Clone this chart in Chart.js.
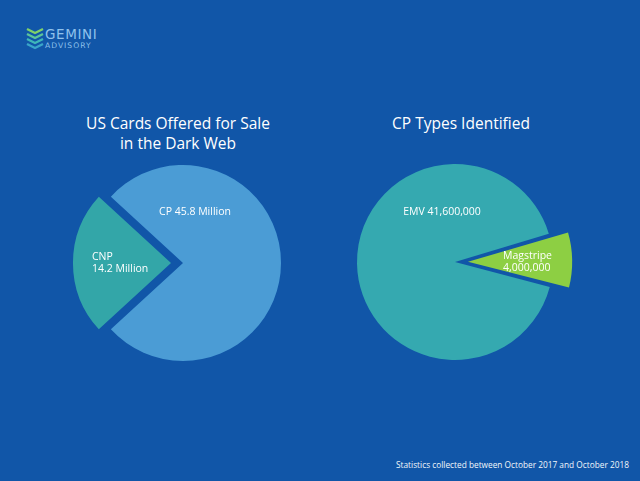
<!DOCTYPE html>
<html>
<head>
<meta charset="utf-8">
<script src="https://cdn.jsdelivr.net/npm/chart.js@4.4.0/dist/chart.umd.min.js"></script>
<style>
  html, body { margin: 0; padding: 0; }
  body { width: 640px; height: 481px; background: #1156a8; position: relative; overflow: hidden; font-family: "Open Sans", sans-serif; color: #fff; }
  .title { position: absolute; text-align: center; font-size: 15.5px; line-height: 20px; width: 260px; }
  .chartBox { position: absolute; width: 240px; height: 240px; }
  .footer { position: absolute; left: 396px; top: 459px; font-size: 8.3px; color: #f2f6fb; white-space: nowrap; }
  .logo { position: absolute; left: 26px; top: 27px; }
  .logo .name { position: absolute; left: 19px; top: 0px; font-size: 13.5px; letter-spacing: 0.6px; color: #8fc2ec; line-height: 14px; font-family: "DejaVu Sans", sans-serif; }
  .logo .sub { position: absolute; left: 19px; top: 14px; font-size: 7.6px; letter-spacing: 1px; color: #8fc2ec; line-height: 9px; font-family: "DejaVu Sans", sans-serif; }
</style>
</head>
<body>
<div class="logo">
  <svg width="18" height="24" viewBox="0 0 18 24">
    <polyline points="1,2 9,6 17,2" fill="none" stroke="#7fd16a" stroke-width="2.4"/>
    <polyline points="1,7 9,11 17,7" fill="none" stroke="#5cc59a" stroke-width="2.4"/>
    <polyline points="1,12 9,16 17,12" fill="none" stroke="#3fb7b8" stroke-width="2.4"/>
    <polyline points="1,17 9,21 17,17" fill="none" stroke="#3aa6c9" stroke-width="2.4"/>
  </svg>
  <div class="name">GEMINI</div>
  <div class="sub">ADVISORY</div>
</div>

<div class="title" style="left:48px; top:113px;">US Cards Offered for Sale<br>in the Dark Web</div>
<div class="title" style="left:331px; top:113px;">CP Types Identified</div>

<div class="chartBox" style="left:63px; top:143px;"><canvas id="cardsChart" width="240" height="240"></canvas></div>
<div class="chartBox" style="left:335px; top:142px;"><canvas id="cpChart" width="240" height="240"></canvas></div>

<div class="footer">Statistics collected between October 2017 and October 2018</div>

<script>
// data
const cardLabels = ["CNP", "CP"];
const cardValues = [14.2, 45.8]; // millions
const cardText = [["CNP", "14.2 Million"], ["CP 45.8 Million"]];
const cardColors = ["#33a6a8", "#4b9cd5"];

const cpLabels = ["Magstripe", "EMV"];
const cpValues = [4000000, 41600000];
const cpText = [["Magstripe", "4,000,000"], ["EMV 41,600,000"]];
const cpColors = ["#8dcf43", "#35a9b0"];

// where each slice's text sits, relative to the pie centre
const cardTextPos = [{ x: -91, y: 0, align: "left" }, { x: 12, y: -51, align: "center" }];
const cpTextPos = [{ x: 48, y: 0, align: "left" }, { x: -13, y: -50, align: "center" }];

const sliceText = {
  id: "sliceText",
  afterDatasetsDraw(chart, args, opts) {
    const ctx = chart.ctx;
    const cx = (chart.chartArea.left + chart.chartArea.right) / 2;
    const cy = (chart.chartArea.top + chart.chartArea.bottom) / 2;
    ctx.save();
    ctx.fillStyle = "#ffffff";
    ctx.font = "10.5px 'Open Sans', sans-serif";
    ctx.textBaseline = "middle";
    opts.lines.forEach((lines, i) => {
      const p = opts.pos[i];
      ctx.textAlign = p.align;
      const top = cy + p.y - (lines.length - 1) * 6;
      lines.forEach((t, j) => ctx.fillText(t, cx + p.x, top + j * 12));
    });
    ctx.restore();
  }
};

function makePie(id, labels, values, colors, offsets, rotation, lines, pos) {
  return new Chart(document.getElementById(id), {
    type: "pie",
    data: {
      labels: labels,
      datasets: [{
        data: values,
        backgroundColor: colors,
        borderWidth: 0,
        offset: offsets,
      }],
    },
    options: {
      responsive: false,
      animation: false,
      radius: 98,
      rotation: rotation,
      layout: { padding: 0 },
      plugins: {
        legend: { display: false },
        tooltip: { enabled: false },
        sliceText: { lines: lines, pos: pos },
      },
    },
    plugins: [sliceText],
  });
}

// CNP centred on the left side (270deg from top), Magstripe on the right (90deg)
const cnpSweep = 360 * cardValues[0] / (cardValues[0] + cardValues[1]);
const magSweep = 360 * cpValues[0] / (cpValues[0] + cpValues[1]);

// arc offset is drawn at a quarter of its value, so 48 -> ~12px shift
makePie("cardsChart", cardLabels, cardValues, cardColors, [48, 0], 270 - cnpSweep / 2, cardText, cardTextPos);
makePie("cpChart", cpLabels, cpValues, cpColors, [52, 0], 89 - magSweep / 2, cpText, cpTextPos);
</script>
</body>
</html>
